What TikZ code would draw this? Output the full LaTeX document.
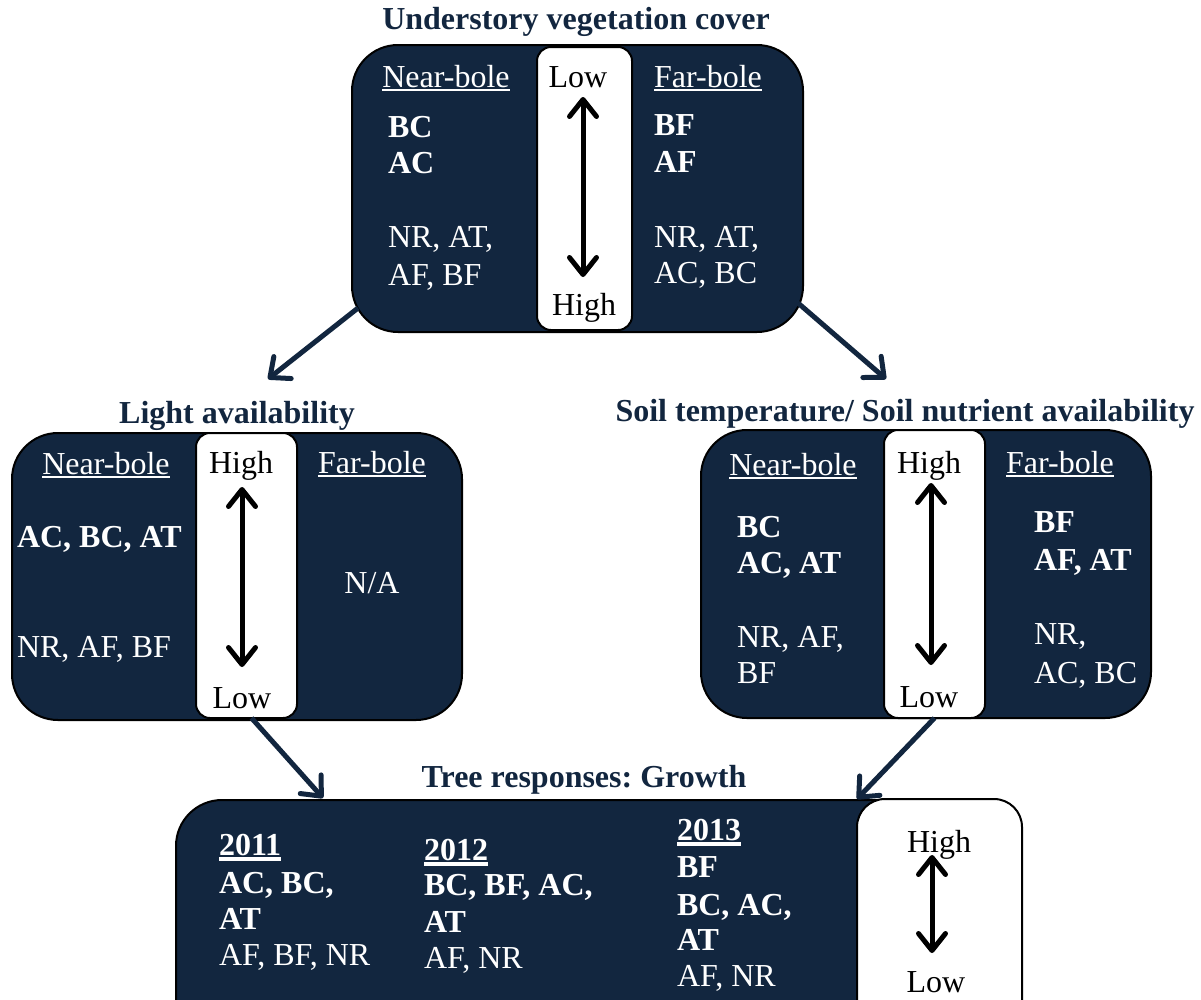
\documentclass[tikz,border=0pt]{standalone}
\usepackage{fontspec}
\setmainfont{Liberation Serif}
\usetikzlibrary{arrows.meta}
\frenchspacing
\definecolor{navy}{HTML}{12263F}
\newcommand{\uln}[2][2]{\setbox0\hbox{#2}\rlap{\rule[\dimexpr-2pt-#1pt\relax]{\wd0}{#1pt}}\box0}
\tikzset{
  darkbox/.style={draw=black,line width=2pt,fill=navy,rounded corners=46pt,inner sep=0pt,outer sep=0pt},
  whitebox/.style={draw=black,line width=2pt,fill=white,rounded corners=14pt,inner sep=0pt,outer sep=0pt},
  txt/.style={font=\fontsize{32}{37}\selectfont,inner sep=0pt,outer sep=0pt},
  hdr/.style={txt,text=white,anchor=base},
  lvl/.style={txt,text=black,anchor=base},
  lst/.style={txt,text=white,anchor=base west},
  blst/.style={lst,font=\fontsize{32}{37}\selectfont\bfseries},
  ttl/.style={txt,text=navy,anchor=base,font=\fontsize{32}{37}\selectfont\bfseries},
  rangearrow/.style={draw=black,line width=5pt,arrows={Straight Barb[length=17pt,width=27pt,round]-Straight Barb[length=17pt,width=27pt,round]}},
  link/.style={draw=navy,line width=5pt,arrows={-Straight Barb[length=16pt,width=28pt,round]}}
}
\begin{document}
\begin{tikzpicture}[x=1pt,y=-1pt]
\useasboundingbox (0,0) rectangle (1201,999);
\clip (0,0) rectangle (1201,999);
\node[darkbox,minimum width=451,minimum height=287] (ubox) at (577.5,188.5) {};
\node[whitebox,minimum width=95,minimum height=283] (uwhite) at (584.5,188.5) {};
\node[darkbox,minimum width=450,minimum height=287] (lbox) at (237,576.5) {};
\node[whitebox,minimum width=101,minimum height=285] (lwhite) at (246.5,575.5) {};
\node[darkbox,minimum width=450,minimum height=288] (rbox) at (926,574) {};
\node[whitebox,minimum width=101,minimum height=288] (rwhite) at (934.5,574) {};
\node[darkbox,minimum width=834,minimum height=260] (bbox) at (593,930) {};
\node[whitebox,rounded corners=28pt,minimum width=165,minimum height=261] (bwhite) at (939.5,929.5) {};

\node[ttl] (utitle) at (576,29) {Understory vegetation cover};
\node[hdr] (unear) at (446,87) {\uln{Near-bole}};
\node[lvl] (ulow) at (578,87) {Low};
\node[hdr] (ufar) at (708,87) {\uln{Far-bole}};
\node[lvl] (uhigh) at (584,315) {High};
\node[blst] (unb1) at (388,137) {BC};
\node[blst] (unb2) at (388,173) {AC};
\node[lst] (unr1) at (388,247) {NR, AT,};
\node[lst] (unr2) at (388,285) {AF, BF};
\node[blst] (ufb1) at (654,135) {BF};
\node[blst] (ufb2) at (654,172) {AF};
\node[lst] (ufr1) at (654,247) {NR, AT,};
\node[lst] (ufr2) at (654,283) {AC, BC};

\node[ttl] (ltitle) at (237,423) {Light availability};
\node[hdr] (lnear) at (106,474) {\uln{Near-bole}};
\node[lvl] (lhigh) at (241,473) {High};
\node[hdr] (lfar) at (372,473) {\uln{Far-bole}};
\node[blst] (lnb) at (17,547) {AC, BC, AT};
\node[lst] (lnr) at (17,657) {NR, AF, BF};
\node[hdr] (lfr) at (372,593) {N/A};
\node[lvl] (llow) at (242,708) {Low};

\node[ttl] (rtitle) at (905,421) {Soil temperature/ Soil nutrient availability};
\node[hdr] (rnear) at (793,475) {\uln{Near-bole}};
\node[lvl] (rhigh) at (929,473) {High};
\node[hdr] (rfar) at (1060,473) {\uln{Far-bole}};
\node[blst] (rnb1) at (737,537) {BC};
\node[blst] (rnb2) at (737,573) {AC, AT};
\node[lst] (rnr1) at (737,647) {NR, AF,};
\node[lst] (rnr2) at (737,683) {BF};
\node[blst] (rfb1) at (1034,532) {BF};
\node[blst] (rfb2) at (1034,570) {AF, AT};
\node[lst] (rfr1) at (1034,644) {NR,};
\node[lst] (rfr2) at (1034,683) {AC, BC};
\node[lvl] (rlow) at (929,707) {Low};

\node[ttl] (btitle) at (584,787) {Tree responses: Growth};
\node[blst] (y11) at (219,855) {\uln[4]{2011}};
\node[blst] (y11a) at (219,893) {AC, BC,};
\node[blst] (y11b) at (219,929) {AT};
\node[lst] (y11c) at (219,965) {AF, BF, NR};
\node[blst] (y12) at (424,860) {\uln[4]{2012}};
\node[blst] (y12a) at (424,895) {BC, BF, AC,};
\node[blst] (y12b) at (424,932) {AT};
\node[lst] (y12c) at (424,968) {AF, NR};
\node[blst] (y13) at (677,840) {\uln[4]{2013}};
\node[blst] (y13a) at (677,877) {BF};
\node[blst] (y13b) at (677,915) {BC, AC,};
\node[blst] (y13c) at (677,950) {AT};
\node[lst] (y13d) at (677,986) {AF, NR};
\node[lvl] (bhigh) at (939,852) {High};
\node[lvl] (blow) at (936,992) {Low};

\coordinate (ua) at (583,97);
\coordinate (ub) at (583,277);
\coordinate (la) at (242,487);
\coordinate (lb) at (242,667);
\coordinate (ra) at (931,483);
\coordinate (rb) at (931,665);
\coordinate (ba) at (932,855);
\coordinate (bb) at (932,953);
\draw[rangearrow] (ua) -- (ub);
\draw[rangearrow] (la) -- (lb);
\draw[rangearrow] (ra) -- (rb);
\draw[rangearrow] (ba) -- (bb);

\coordinate (us1) at (358,308);
\coordinate (lt) at (268,379);
\coordinate (us2) at (798,303);
\coordinate (rt) at (886,379);
\coordinate (bt) at (323,798);
\draw[link] (us1) -- (lt);
\draw[link] (us2) -- (rt);
\draw[link] ([xshift=5pt]lwhite.south) -- (bt);
\draw[link] (rwhite.south) -- (bwhite.north west);
\end{tikzpicture}
\end{document}
